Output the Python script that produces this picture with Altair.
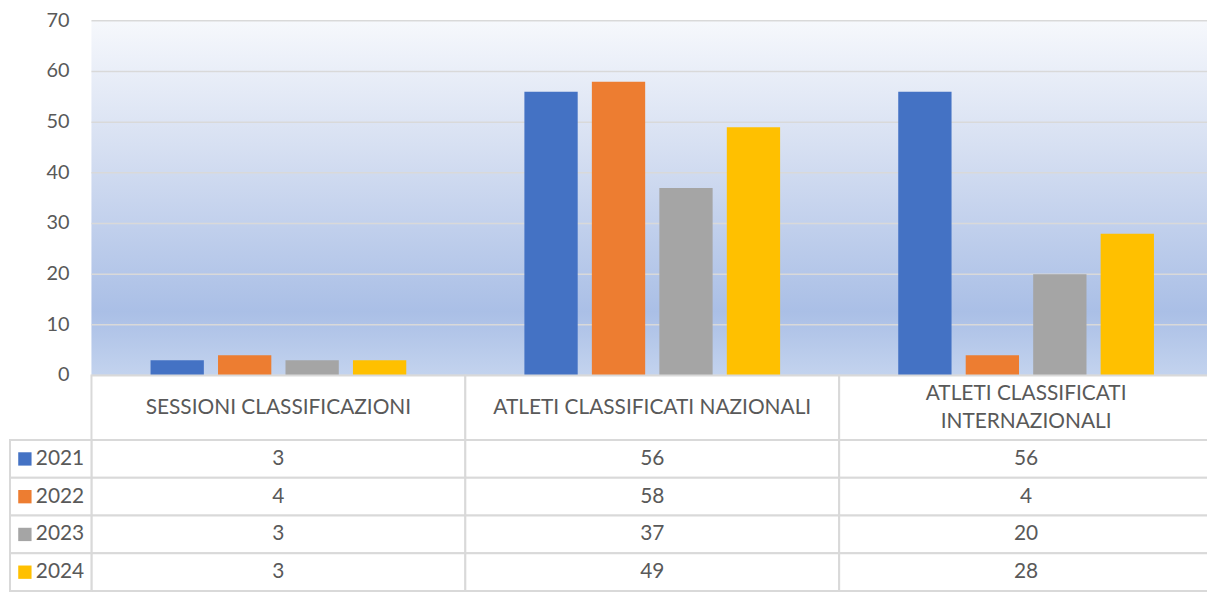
import altair as alt
import pandas as pd

categories = ["SESSIONI CLASSIFICAZIONI", "ATLETI CLASSIFICATI NAZIONALI", "ATLETI CLASSIFICATI INTERNAZIONALI"]
header_single = ["SESSIONI CLASSIFICAZIONI", "ATLETI CLASSIFICATI NAZIONALI"]
header_double = ["ATLETI CLASSIFICATI\nINTERNAZIONALI"]
years = ["2021", "2022", "2023", "2024"]
v2021 = [3, 56, 56]
v2022 = [4, 58, 4]
v2023 = [3, 37, 20]
v2024 = [3, 49, 28]
colors = ["#4472C4", "#ED7D31", "#A5A5A5", "#FFC000"]
y_ticks = [0, 10, 20, 30, 40, 50, 60, 70]

rows = []
for yr, vals in zip(years, [v2021, v2022, v2023, v2024]):
    for c, v in zip(categories, vals):
        rows.append({"cat": c, "year": yr, "value": v})
df = pd.DataFrame(rows)
hdr = pd.DataFrame({"cat": categories})
hdr1 = pd.DataFrame({"cat": categories[:2], "label": header_single})
hdr2 = pd.DataFrame({"cat": categories[2:], "label": header_double})
leg = pd.DataFrame({"year": years})
grid_df = pd.DataFrame({"v": y_ticks})

W = 1123
H = 357
HDR_B = 422
ROW_B = 574
FONT = "Lato"
TXT = "#595959"
GRID = "#D9D9D9"
FS = 21
P_IN = 0.316

color = alt.Color("year:N", scale=alt.Scale(domain=years, range=colors), legend=None)
yscale = alt.Scale(domain=[0, 70], nice=False, zero=True)
xscale = alt.Scale(domain=categories, paddingInner=P_IN, paddingOuter=0.150, align=0.527)
xc = alt.X("cat:N", sort=categories, axis=None, scale=xscale)
cell_w = alt.RelativeBandSize(band=1 / (1 - P_IN))

gradient = alt.LinearGradient(
    gradient="linear",
    stops=[
        alt.GradientStop(color="#F6F8FC", offset=0),
        alt.GradientStop(color="#D7E0F2", offset=0.35),
        alt.GradientStop(color="#AABFE6", offset=0.82),
        alt.GradientStop(color="#C3D3EE", offset=1),
    ],
    x1=0, x2=0, y1=0, y2=1,
)

bg = alt.Chart(pd.DataFrame({"k": [0]})).mark_rect(fill=gradient).encode(
    x=alt.value(0), x2=alt.value(W), y=alt.value(0), y2=alt.value(H)
)

grid = alt.Chart(grid_df).mark_rule(color=GRID, strokeWidth=1.5).encode(
    y=alt.Y("v:Q", scale=yscale, axis=None),
    x=alt.value(0), x2=alt.value(W),
)

tick_labels = alt.Chart(grid_df).mark_text(align="right", baseline="middle", font=FONT,
                                            fontSize=20, color=TXT).encode(
    y=alt.Y("v:Q", scale=yscale, axis=None),
    x=alt.value(-22),
    text="v:Q",
)

bars = alt.Chart(df).mark_bar().encode(
    x=xc,
    xOffset=alt.XOffset("year:N", sort=years, scale=alt.Scale(paddingInner=0.21, paddingOuter=0)),
    y=alt.Y("value:Q", scale=yscale, axis=None),
    color=color,
)

bar_group = alt.layer(bg, grid, tick_labels, bars)

yt = alt.Y("year:N", sort=years, axis=None,
           scale=alt.Scale(range=[HDR_B, ROW_B], paddingInner=0, paddingOuter=0))

hdr_cells = alt.Chart(hdr).mark_rect(fill="white", stroke=GRID, strokeWidth=2, width=cell_w).encode(
    x=xc, y=alt.value(H), y2=alt.value(HDR_B)
)
hdr_text1 = alt.Chart(hdr1).mark_text(baseline="middle", font=FONT, fontSize=FS, color=TXT).encode(
    x=xc, y=alt.value(390), text="label:N"
)
hdr_text2 = alt.Chart(hdr2).mark_text(lineBreak="\n", lineHeight=28, baseline="middle",
                                      font=FONT, fontSize=FS, color=TXT).encode(
    x=xc, y=alt.value(376), text="label:N"
)
cells = alt.Chart(df).mark_rect(fill="white", stroke=GRID, strokeWidth=2, width=cell_w).encode(
    x=xc, y=yt
)
cell_text = alt.Chart(df).mark_text(baseline="middle", font=FONT, fontSize=FS, color=TXT).encode(
    x=xc, y=yt, text="value:Q"
)
leg_cells = alt.Chart(leg).mark_rect(fill="white", stroke=GRID, strokeWidth=2).encode(
    x=alt.value(-82), x2=alt.value(0), y=yt
)
leg_sq = alt.Chart(leg).mark_square(size=180, opacity=1, filled=True).encode(
    x=alt.value(-67), y=yt, color=color
)
leg_text = alt.Chart(leg).mark_text(align="left", baseline="middle", font=FONT,
                                    fontSize=FS, color=TXT).encode(
    x=alt.value(-56), y=yt, text="year:N"
)

table_group = alt.layer(hdr_cells, hdr_text1, hdr_text2, cells, cell_text,
                        leg_cells, leg_sq, leg_text)

chart = alt.layer(bar_group, table_group).resolve_scale(
    x="shared", y="independent"
).properties(
    width=W, height=H,
    autosize=alt.AutoSizeParams(type="none"),
    padding={"left": 84, "top": 11, "right": 0, "bottom": 216},
    background="white",
).configure_view(stroke=None)

chart.save("out.html", embed_options={"renderer": "svg", "actions": False})
